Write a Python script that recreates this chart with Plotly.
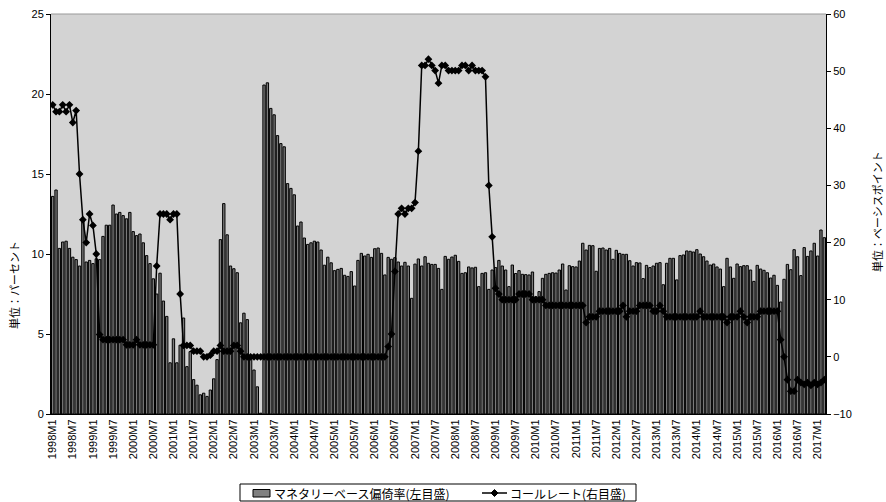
import plotly.graph_objects as go

# ---- data ----
months = [f"{1998 + i // 12}M{i % 12 + 1}" for i in range(231)]

base_dev = [
    13.6, 14.0, 10.35, 10.75, 10.8, 10.35, 9.8, 9.65, 9.25, 12.1,
    9.5, 9.6, 9.4, 9.7, 9.65, 11.1, 11.8, 11.8, 13.06, 12.5,
    12.6, 12.4, 12.2, 12.6, 11.4, 11.15, 11.25, 10.7, 9.9, 9.4,
    8.45, 7.5, 8.8, 7.06, 6.1, 3.2, 4.7, 3.2, 4.3, 6.0,
    2.96, 3.9, 2.15, 1.8, 1.2, 1.3, 1.1, 1.5, 2.2, 3.4,
    10.9, 13.15, 11.2, 9.25, 9.08, 8.83, 5.7, 6.3, 5.9, 3.6,
    2.75, 1.7, 0.05, 20.56, 20.7, 19.1, 18.7, 17.4, 16.9, 16.7,
    14.4, 14.1, 13.7, 11.75, 12.0, 11.0, 10.6, 10.7, 10.8, 10.75,
    10.25, 9.3, 9.8, 9.45, 8.96, 9.04, 9.1, 8.67, 8.6, 8.9,
    8.0, 9.6, 10.04, 9.875, 9.98, 9.79, 10.33, 10.375, 10.04, 8.69,
    9.79, 9.67, 9.77, 9.5, 9.25, 9.48, 9.25, 7.23, 9.37, 9.69,
    9.25, 9.83, 9.42, 9.35, 9.35, 9.1, 7.79, 9.85, 9.67, 9.81,
    9.92, 9.54, 8.79, 8.83, 9.19, 9.13, 9.17, 7.96, 8.79, 8.83,
    7.79, 9.0, 9.15, 9.6, 9.25, 9.0, 7.96, 9.31, 8.78, 8.96,
    8.73, 8.71, 8.69, 8.875, 7.33, 7.65, 8.48, 8.73, 8.79, 8.83,
    8.81, 9.0, 9.375, 7.75, 9.27, 9.21, 9.19, 9.56, 10.67, 10.25,
    10.54, 10.52, 8.92, 10.35, 10.375, 10.25, 10.35, 9.67, 10.23, 10.04,
    9.98, 9.98, 9.58, 9.25, 9.46, 9.44, 8.46, 9.29, 9.15, 9.25,
    9.42, 9.46, 8.08, 9.42, 9.73, 9.73, 8.38, 9.9, 9.94, 10.19,
    10.17, 10.125, 10.27, 10.0, 9.83, 9.56, 9.31, 9.375, 9.19, 9.06,
    7.96, 9.73, 9.19, 8.48, 9.375, 9.21, 9.27, 9.27, 9.0, 8.29,
    9.29, 9.06, 8.98, 8.83, 8.5, 8.67, 8.04, 7.0, 8.42, 9.35,
    9.02, 10.27, 9.83, 8.65, 10.4, 9.85, 10.19, 10.67, 9.875, 11.5, 11.02,
]

call_rate = [
    44.1, 42.9, 42.9, 44.1, 42.9, 44.1, 41.0, 43.1, 32.0, 24.0,
    20.0, 25.0, 23.0, 18.0, 3.9, 3.0, 3.0, 3.0, 3.0, 3.0,
    3.0, 3.0, 2.1, 2.1, 2.1, 3.0, 2.1, 2.1, 2.1, 2.1,
    2.1, 15.9, 25.0, 25.0, 25.0, 24.0, 25.0, 25.0, 11.0, 2.0,
    2.0, 2.0, 1.0, 1.0, 1.0, 0.0, 0.0, 0.3, 1.0, 1.0,
    2.0, 1.0, 1.0, 1.0, 2.0, 2.0, 1.0, 0.0, 0.0, 0.0,
    0.0, 0.0, 0.0, 0.0, 0.0, 0.0, 0.0, 0.0, 0.0, 0.0,
    0.0, 0.0, 0.0, 0.0, 0.0, 0.0, 0.0, 0.0, 0.0, 0.0,
    0.0, 0.0, 0.0, 0.0, 0.0, 0.0, 0.0, 0.0, 0.0, 0.0,
    0.0, 0.0, 0.0, 0.0, 0.0, 0.0, 0.0, 0.0, 0.0, 0.0,
    1.8, 4.0, 14.95, 25.0, 26.0, 25.0, 26.0, 26.0, 27.0, 36.0,
    51.0, 51.0, 52.1, 51.0, 50.1, 47.9, 51.0, 51.0, 50.1, 50.1,
    50.1, 50.1, 51.0, 51.0, 50.1, 51.0, 50.1, 50.1, 50.1, 49.0,
    30.0, 21.0, 12.0, 11.0, 10.0, 10.0, 10.0, 10.0, 10.0, 11.0,
    11.0, 11.0, 11.0, 10.0, 10.0, 10.0, 10.0, 9.0, 9.0, 9.0,
    9.0, 9.0, 9.0, 9.0, 9.0, 9.0, 9.0, 9.0, 9.0, 6.0,
    7.0, 7.0, 7.0, 8.0, 8.0, 8.0, 8.0, 8.0, 8.0, 8.0,
    9.0, 7.0, 8.0, 8.0, 8.0, 9.0, 9.0, 9.0, 9.0, 8.0,
    8.0, 9.0, 8.0, 7.0, 7.0, 7.0, 7.0, 7.0, 7.0, 7.0,
    7.0, 7.0, 7.0, 8.0, 7.0, 7.0, 7.0, 7.0, 7.0, 7.0,
    7.0, 6.0, 7.0, 7.0, 7.0, 8.0, 7.0, 6.0, 7.0, 7.0,
    7.0, 8.0, 8.0, 8.0, 8.0, 8.0, 8.0, 3.0, 0.0, -4.0,
    -6.0, -6.0, -4.0, -4.5, -4.8, -4.5, -5.0, -4.5, -4.8, -4.5, -4.0,
]

tick_labels = [m for m in months if m.endswith("M1") or m.endswith("M7")]

bar_name = "マネタリーベース偏倚率(左目盛)"
line_name = "コールレート(右目盛)"
left_title = "単位：パーセント"
right_title = "単位：ベーシスポイント"

FONT = "Liberation Sans, Arial, Noto Sans CJK JP"
JFONT = "Noto Sans CJK JP, Liberation Sans"

# plot-area geometry (pixels) used for legend / title placement
W, H = 886, 502
ML, MR, MT, MB = 51, 60, 14, 88
PW, PH = W - ML - MR, H - MT - MB


def px(x):
    return (x - ML) / PW


def py(y):
    return (H - MB - y) / PH


fig = go.Figure()
fig.add_trace(go.Bar(
    x=months, y=base_dev, name=bar_name,
    marker=dict(color="#7a7a7a", line=dict(color="#000000", width=1)),
    yaxis="y", showlegend=False,
))
fig.add_trace(go.Scatter(
    x=months, y=call_rate, name=line_name, mode="lines+markers",
    line=dict(color="#000000", width=1.5),
    marker=dict(symbol="diamond", size=6, color="#000000"),
    yaxis="y2", showlegend=False,
))

fig.update_layout(
    width=W, height=H,
    margin=dict(l=ML, r=MR, t=MT, b=MB, autoexpand=False),
    paper_bgcolor="white",
    plot_bgcolor="#d3d3d3",
    bargap=0.3,
    showlegend=False,
    font=dict(family=FONT, size=11, color="#000000"),
    xaxis=dict(
        type="category", range=[-0.5, len(months) - 0.5],
        tickmode="array", tickvals=tick_labels, ticktext=tick_labels,
        tickangle=-90, tickfont=dict(size=11, family=FONT),
        showgrid=False, showline=True, linecolor="#000000", linewidth=1,
        ticks="", zeroline=False,
    ),
    yaxis=dict(
        range=[0, 25], dtick=5, tick0=0,
        showgrid=False, showline=True, linecolor="#000000", linewidth=1,
        ticks="outside", ticklen=4, tickcolor="#000000",
        tickfont=dict(size=11, family=FONT), zeroline=False,
    ),
    yaxis2=dict(
        range=[-10, 60], dtick=10, tick0=-10,
        overlaying="y", side="right",
        showgrid=False, showline=True, linecolor="#000000", linewidth=1,
        ticks="outside", ticklen=4, tickcolor="#000000",
        tickfont=dict(size=11, family=FONT), zeroline=False,
    ),
)

# top border of plot area
fig.add_shape(type="line", xref="paper", yref="paper", x0=0, x1=1, y0=1, y1=1,
              line=dict(color="#999999", width=1))

# axis titles
fig.add_annotation(text=left_title, xref="paper", yref="paper",
                   x=px(14), y=py(285), textangle=-90, showarrow=False,
                   font=dict(size=11, family=JFONT), xanchor="center", yanchor="middle")
fig.add_annotation(text=right_title, xref="paper", yref="paper",
                   x=px(877), y=py(212), textangle=-90, showarrow=False,
                   font=dict(size=11, family=JFONT), xanchor="center", yanchor="middle")

# legend (drawn as box + swatches + text)
ly = 493
fig.add_shape(type="rect", xref="paper", yref="paper",
              x0=px(240), x1=px(636), y0=py(501), y1=py(484),
              line=dict(color="#000000", width=1), fillcolor="white", layer="above")
fig.add_shape(type="rect", xref="paper", yref="paper",
              x0=px(253), x1=px(270), y0=py(497), y1=py(489.5),
              line=dict(color="#000000", width=1), fillcolor="#808080", layer="above")
fig.add_annotation(text=bar_name, xref="paper", yref="paper", x=px(272), y=py(ly),
                   xanchor="left", yanchor="middle", showarrow=False,
                   font=dict(size=12, family=JFONT))
fig.add_shape(type="line", xref="paper", yref="paper",
              x0=px(482), x1=px(507), y0=py(ly), y1=py(ly),
              line=dict(color="#000000", width=1.5), layer="above")
cx, r = 494.5, 3.5
fig.add_shape(type="path", xref="paper", yref="paper",
              path=(f"M {px(cx)},{py(ly - r)} L {px(cx + r)},{py(ly)} "
                    f"L {px(cx)},{py(ly + r)} L {px(cx - r)},{py(ly)} Z"),
              line=dict(color="#000000", width=1), fillcolor="#000000", layer="above")
fig.add_annotation(text=line_name, xref="paper", yref="paper", x=px(508), y=py(ly),
                   xanchor="left", yanchor="middle", showarrow=False,
                   font=dict(size=12, family=JFONT))

fig.write_html("out.html")
